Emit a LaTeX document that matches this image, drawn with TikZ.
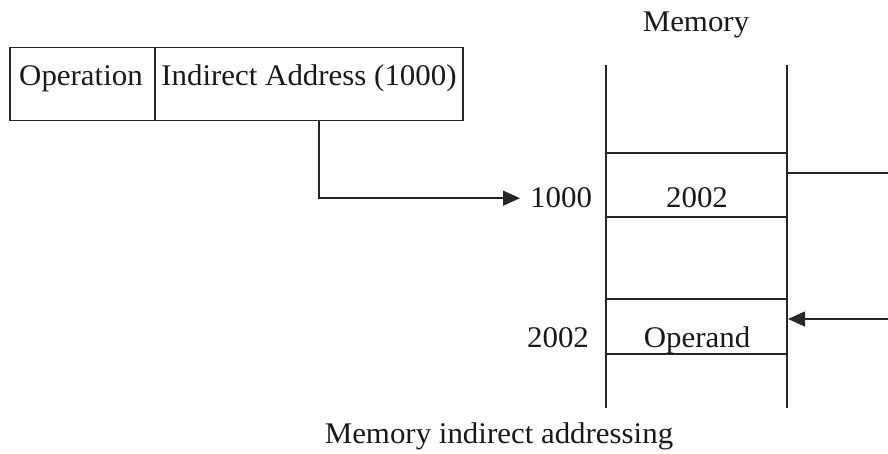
\documentclass[tikz,border=0pt]{standalone}
\usepackage{fontspec}
\setmainfont{Liberation Serif}[FakeStretch=1.03]
\usetikzlibrary{arrows.meta}
\begin{document}
\begin{tikzpicture}[x=1pt,y=-1pt,
  rule/.style={line width=1.5pt,draw=black!85},
  lbl/.style={font=\fontsize{30}{32}\selectfont,inner sep=0pt,text=black!90,anchor=base},
  ptr/.style={rule,-{Triangle[length=17pt,width=15pt]}}]
\useasboundingbox (0,0) rectangle (888,454);
% instruction word
\node[rule,minimum width=145pt,minimum height=73pt,anchor=north west,inner sep=0pt] (op) at (9,47) {};
\node[rule,minimum width=308pt,minimum height=73pt,anchor=north west,inner sep=0pt] (ind) at (154,47) {};
\node[lbl] (optxt) at (81,86) {Operation};
\node[lbl] (indtxt) at (309,86) {Indirect Address (1000)};
% memory column
\node[lbl] (memtitle) at (696,32) {Memory};
\coordinate (mtl) at (606,65);
\coordinate (mtr) at (787,65);
\coordinate (mbl) at (606,408);
\coordinate (mbr) at (787,408);
\draw[rule] (mtl) -- (mbl);
\draw[rule] (mtr) -- (mbr);
\foreach \yy in {153,217,299,354} \draw[rule] (606,\yy) -- (787,\yy);
\node[lbl] (v1) at (697,208) {2002};
\node[lbl] (v2) at (697,347) {Operand};
\node[lbl,anchor=base west] (a1) at (530,208) {1000};
\node[lbl] (a2) at (558,347) {2002};
% pointer from the address field
\draw[ptr] ([xshift=10pt]ind.south) |- ([xshift=-10pt]a1.west);
% link leaving and returning on the right
\coordinate (outR) at (888,173);
\coordinate (inR) at (888,319);
\draw[rule] (787,173) -- (outR);
\draw[ptr] (inR) -- (788,319);
\node[lbl] (cap) at (499,443) {Memory indirect addressing};
\end{tikzpicture}
\end{document}
